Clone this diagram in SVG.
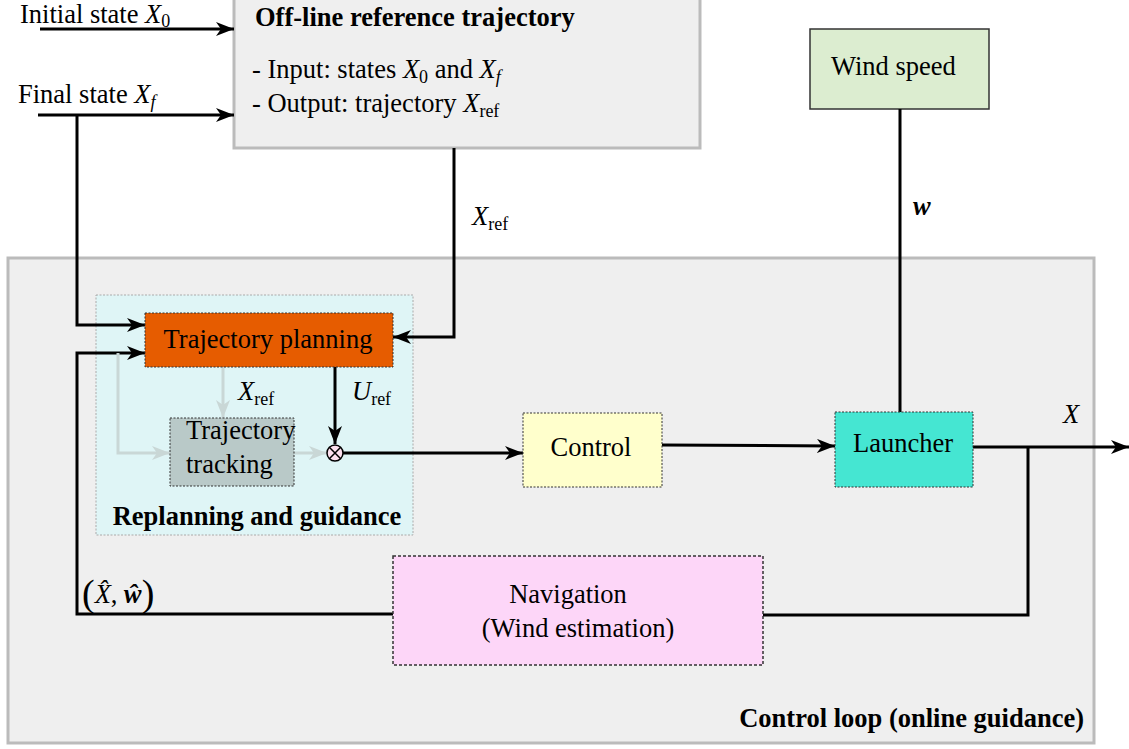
<svg xmlns="http://www.w3.org/2000/svg" width="1129" height="749" viewBox="0 0 1129 749">
<style>
text{font-family:"Liberation Serif","Times New Roman",serif;fill:#000;font-size:26.5px}
.b{font-weight:bold}
.i{font-style:italic}
.sub{font-size:18px}
.c{stroke:#000;stroke-width:3;fill:none}
.l{stroke:#c9d7d6;stroke-width:3;fill:none}
.dot{stroke:#333;stroke-width:1;stroke-dasharray:2 1.5}
</style>
<defs>
<marker id="ah" markerUnits="userSpaceOnUse" markerWidth="20" markerHeight="14" refX="18" refY="7" orient="auto">
<path d="M0,0 L18,7 L0,14 L5,7 z" fill="#000"/>
</marker>
<marker id="al" markerUnits="userSpaceOnUse" markerWidth="20" markerHeight="14" refX="18" refY="7" orient="auto">
<path d="M0,0 L18,7 L0,14 L5,7 z" fill="#c9d7d6"/>
</marker>
</defs>
<rect width="1129" height="749" fill="#fff"/>

<g id="control-loop">
<rect x="8" y="258" width="1086" height="485" fill="#efefef" stroke="#bbb" stroke-width="3"/>
<text class="b" x="1084" y="727" text-anchor="end">Control loop (online guidance)</text>
</g>

<g id="offline">
<rect x="234" y="-10" width="466" height="158" fill="#efefef" stroke="#bbb" stroke-width="3"/>
<text class="b" x="255" y="26">Off-line reference trajectory</text>
<text x="252" y="78">- Input: states <tspan class="i">X</tspan><tspan class="sub" dy="5">0</tspan><tspan dy="-5"> and </tspan><tspan class="i">X</tspan><tspan class="sub i" dy="5">f</tspan></text>
<text x="252" y="112">- Output: trajectory <tspan class="i">X</tspan><tspan class="sub" dy="5">ref</tspan></text>
</g>

<g id="replanning">
<rect x="96" y="295" width="317" height="240" fill="#dff5f6" stroke="#aaa" stroke-width="1" stroke-dasharray="2 1.5"/>
<text class="b" x="257" y="525" text-anchor="middle">Replanning and guidance</text>
</g>

<g id="wind-speed">
<rect x="810" y="29" width="179" height="80" fill="#dcedd0" stroke="#333" stroke-width="1.5"/>
<text x="831" y="75">Wind speed</text>
</g>

<g id="connectors">
<line class="c" x1="40" y1="29" x2="234" y2="29" marker-end="url(#ah)"/>
<line class="c" x1="38" y1="115" x2="234" y2="115" marker-end="url(#ah)"/>
<polyline class="c" points="77,115 77,325 145,325" marker-end="url(#ah)"/>
<polyline class="c" points="454,148 454,337 393,337" marker-end="url(#ah)"/>
<polyline class="c" points="393,614 77,614 77,353 145,353" marker-end="url(#ah)"/>
<polyline class="l" points="118,353 118,453 170,453" marker-end="url(#al)"/>
<line class="l" x1="223" y1="367" x2="223" y2="418" marker-end="url(#al)"/>
<line class="l" x1="294" y1="453" x2="327" y2="453" marker-end="url(#al)"/>
<line class="c" x1="335" y1="367" x2="335" y2="444" marker-end="url(#ah)"/>
<line class="c" x1="343" y1="453" x2="523" y2="453" marker-end="url(#ah)"/>
<line class="c" x1="662" y1="445" x2="835" y2="446" marker-end="url(#ah)"/>
<line class="c" x1="900" y1="109" x2="900" y2="412"/>
<line class="c" x1="973" y1="447" x2="1129" y2="447" marker-end="url(#ah)"/>
<polyline class="c" points="1028,447 1028,615 763,615"/>
<text class="i" x="472" y="225">X<tspan class="sub" dy="5" font-style="normal">ref</tspan></text>
<text class="i" x="238" y="400">X<tspan class="sub" dy="5" font-style="normal">ref</tspan></text>
<text class="i" x="352" y="400">U<tspan class="sub" dy="5" font-style="normal">ref</tspan></text>
<text class="i b" x="913" y="215">w</text>
<text class="i" x="1063" y="423">X</text>
<text x="82" y="603"><tspan font-size="38" dy="3">(</tspan><tspan class="i" dy="-3">X̂</tspan>, <tspan class="i b">ŵ</tspan><tspan font-size="38" dy="3">)</tspan></text>
</g>

<g id="trajectory-planning">
<rect x="145" y="313" width="248" height="54" fill="#e65c00" class="dot"/>
<text x="268" y="348" text-anchor="middle">Trajectory planning</text>
</g>

<g id="trajectory-tracking">
<rect x="170" y="418" width="124" height="68" fill="#b9c9c8" class="dot"/>
<text x="186" y="439">Trajectory</text>
<text x="186" y="473">tracking</text>
</g>

<g id="sum">
<circle cx="335" cy="453" r="8" fill="#fde0ef" stroke="#000" stroke-width="1.5"/>
<path d="M329.3,447.3 L340.7,458.7 M340.7,447.3 L329.3,458.7" stroke="#000" stroke-width="1.5"/>
</g>

<g id="control">
<rect x="523" y="413" width="139" height="74" fill="#ffffcc" class="dot"/>
<text x="591" y="456" text-anchor="middle">Control</text>
</g>

<g id="launcher">
<rect x="835" y="412" width="138" height="75" fill="#45e6d2" class="dot"/>
<text x="903" y="452" text-anchor="middle">Launcher</text>
</g>

<g id="navigation">
<rect x="393" y="556" width="370" height="109" fill="#fdd6f8" stroke="#333" stroke-width="1.5" stroke-dasharray="3 2"/>
<text x="568" y="603" text-anchor="middle">Navigation</text>
<text x="578" y="637" text-anchor="middle">(Wind estimation)</text>
</g>

<g id="labels">
<text x="20" y="23">Initial state <tspan class="i">X</tspan><tspan class="sub" dy="4">0</tspan></text>
<text x="18" y="103">Final state <tspan class="i">X</tspan><tspan class="sub i" dy="5">f</tspan></text>
</g>
</svg>
